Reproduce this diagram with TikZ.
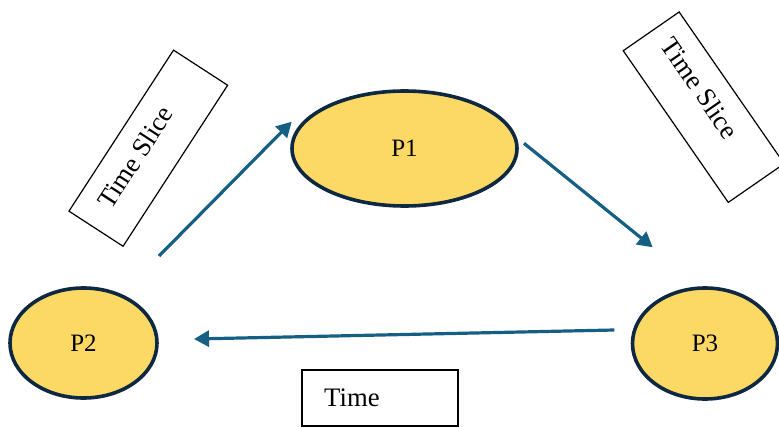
\documentclass[tikz,border=0pt]{standalone}
\usepackage{fontspec}
\setmainfont{Liberation Serif}
\usetikzlibrary{arrows.meta,shapes.geometric}

\definecolor{procfill}{HTML}{FCD965}
\definecolor{procline}{HTML}{0E2841}
\definecolor{flowblue}{HTML}{156082}

\begin{document}
\begin{tikzpicture}[x=1pt,y=-1pt,
  proc/.style={ellipse,draw=procline,line width=3.6pt,fill=procfill,inner sep=0pt,
    font=\fontsize{25}{29}\selectfont},
  flow/.style={draw=flowblue,line width=3.2pt,-{Triangle[length=15pt,width=16pt]}},
  labelbox/.style={draw=black,line width=1.2pt,inner sep=0pt,transform shape},
  labeltext/.style={inner sep=0pt,transform shape,font=\fontsize{26.7}{30}\selectfont}]

  \useasboundingbox (0,0) rectangle (779,428);

  % processes
  \node[proc,minimum width=225pt,minimum height=115pt] (p1) at (404.5,148.5) {P1};
  \node[proc,minimum width=147pt,minimum height=110pt] (p2) at (83.5,343) {P2};
  \node[proc,minimum width=145pt,minimum height=111pt] (p3) at (705,343.5) {P3};

  % arrow end points
  \coordinate (a12s) at (159,256);
  \coordinate (a12e) at (291.7,121.7);
  \coordinate (a13s) at (524,143.3);
  \coordinate (a13e) at (652.7,247.3);
  \coordinate (a32s) at (614.3,330);
  \coordinate (a32e) at (194,339);

  \draw[flow] (a12s) -- (a12e);
  \draw[flow] (a13s) -- (a13e);
  \draw[flow] (a32s) -- (a32e);

  % time slice labels
  \begin{scope}[shift={(148.3,148.2)},rotate=57]
    \node[labelbox,minimum width=192pt,minimum height=64.5pt] (tsl) at (0,0) {};
    \node[labeltext] (tslt) at (-14.6,-6) {Time Slice};
  \end{scope}
  \begin{scope}[shift={(703.7,107.2)},rotate=-55.3]
    \node[labelbox,minimum width=184.5pt,minimum height=68pt] (tsr) at (0,0) {};
    \node[labeltext] (tsrt) at (-17.7,-7.8) {Time Slice};
  \end{scope}

  % time label
  \node[labelbox,minimum width=156pt,minimum height=56pt] (tb) at (380,398) {};
  \node[labeltext,anchor=west] (tbt) at (324,398) {Time};
\end{tikzpicture}
\end{document}
